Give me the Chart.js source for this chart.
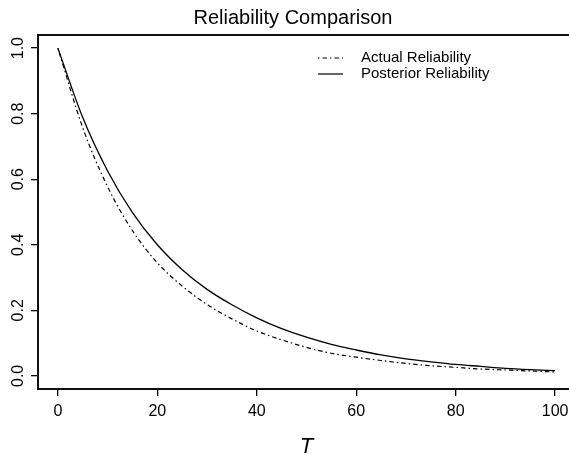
<!DOCTYPE html>
<html>
<head>
<meta charset="utf-8">
<script src="https://cdn.jsdelivr.net/npm/chart.js@4"></script>
<style>
  html, body { margin: 0; padding: 0; background: #fff; overflow: hidden; }
  #wrap { width: 569px; height: 457px; overflow: hidden; position: relative; }
  #chart { display: block; }
</style>
</head>
<body>
<div id="wrap"><canvas id="chart" width="600" height="457"></canvas></div>
<script>
// values
var tValues = [0, 5, 10, 15, 20, 25, 30, 35, 40, 45, 50, 55, 60, 65, 70, 75, 80, 85, 90, 95, 100];
var actualRel = [1.000, 0.757, 0.577, 0.443, 0.345, 0.274, 0.218, 0.174, 0.137, 0.110, 0.087,
                 0.069, 0.057, 0.047, 0.038, 0.031, 0.026, 0.021, 0.018, 0.015, 0.012];
var posteriorRel = [1.000, 0.788, 0.625, 0.498, 0.400, 0.324, 0.264, 0.217, 0.177, 0.144, 0.118,
                    0.096, 0.079, 0.064, 0.052, 0.043, 0.035, 0.029, 0.023, 0.019, 0.016];
var seriesNames = ['Actual Reliability', 'Posterior Reliability'];
var xTicks = [0, 20, 40, 60, 80, 100];
var yTicks = [0.0, 0.2, 0.4, 0.6, 0.8, 1.0];

var FONT = '"Liberation Sans", Arial, Helvetica, sans-serif';
var DOTDASH = [1.5, 3, 4.5, 3];

function toPoints(ys) {
  return tValues.map(function(t, i) { return { x: t, y: ys[i] }; });
}

// box, title, rotated y labels and legend in R style
var rStyle = {
  id: 'rStyle',
  afterDraw: function(chart) {
    var ctx = chart.ctx;
    var area = chart.chartArea;
    var yScale = chart.scales.y;
    ctx.save();

    // plot box (right side falls outside the picture)
    ctx.strokeStyle = '#111';
    ctx.lineWidth = 2;
    ctx.beginPath();
    ctx.moveTo(area.right + 10, area.top);
    ctx.lineTo(area.left, area.top);
    ctx.lineTo(area.left, area.bottom);
    ctx.lineTo(area.right + 10, area.bottom);
    ctx.stroke();

    ctx.fillStyle = '#000';
    ctx.font = '20px ' + FONT;
    ctx.textAlign = 'center';
    ctx.textBaseline = 'alphabetic';
    ctx.fillText('Reliability Comparison', 293, 24);

    ctx.font = '16px ' + FONT;
    ctx.textBaseline = 'middle';
    yTicks.forEach(function(v) {
      var py = yScale.getPixelForValue(v);
      ctx.save();
      ctx.translate(area.left - 19, py);
      ctx.rotate(-Math.PI / 2);
      ctx.fillText(v.toFixed(1), 0, 0);
      ctx.restore();
    });

    // legend
    var rows = [58, 74];
    ctx.font = '15px ' + FONT;
    ctx.textAlign = 'left';
    ctx.lineWidth = 1.2;
    ctx.strokeStyle = '#000';
    rows.forEach(function(ry, i) {
      ctx.setLineDash(i === 0 ? DOTDASH : []);
      ctx.beginPath();
      ctx.moveTo(318, ry);
      ctx.lineTo(343, ry);
      ctx.stroke();
      ctx.fillText(seriesNames[i], 361, ry);
    });
    ctx.restore();
  }
};

var ctx = document.getElementById('chart').getContext('2d');
new Chart(ctx, {
  type: 'line',
  data: {
    datasets: [
      {
        label: seriesNames[0],
        data: toPoints(actualRel),
        borderColor: '#000',
        borderWidth: 1.2,
        borderDash: DOTDASH,
        pointRadius: 0,
        fill: false,
        cubicInterpolationMode: 'monotone'
      },
      {
        label: seriesNames[1],
        data: toPoints(posteriorRel),
        borderColor: '#000',
        borderWidth: 1.3,
        pointRadius: 0,
        fill: false,
        cubicInterpolationMode: 'monotone'
      }
    ]
  },
  options: {
    responsive: false,
    animation: false,
    devicePixelRatio: 1,
    layout: { padding: { left: 0, top: 35, right: 25, bottom: 0 } },
    plugins: {
      legend: { display: false },
      title: { display: false },
      tooltip: { enabled: false }
    },
    scales: {
      x: {
        type: 'linear',
        min: -4,
        max: 104,
        afterBuildTicks: function(scale) {
          scale.ticks = xTicks.map(function(v) { return { value: v }; });
        },
        afterFit: function(scale) { scale.height = 68; },
        grid: { drawOnChartArea: false, drawTicks: true, tickLength: 7, color: '#000', lineWidth: 1.3 },
        border: { display: false },
        ticks: {
          color: '#000',
          font: { family: FONT, size: 16 },
          padding: 6,
          maxRotation: 0,
          callback: function(v) { return String(v); }
        },
        title: {
          display: true,
          text: 'T',
          color: '#000',
          font: { family: FONT, size: 22, style: 'italic' },
          padding: { top: 0, bottom: -3 }
        }
      },
      y: {
        type: 'linear',
        min: -0.04,
        max: 1.04,
        afterBuildTicks: function(scale) {
          scale.ticks = yTicks.map(function(v) { return { value: v }; });
        },
        afterFit: function(scale) { scale.width = 38; },
        grid: { drawOnChartArea: false, drawTicks: true, tickLength: 7, color: '#000', lineWidth: 1.3 },
        border: { display: false },
        ticks: { display: false }
      }
    }
  },
  plugins: [rStyle]
});
</script>
</body>
</html>
